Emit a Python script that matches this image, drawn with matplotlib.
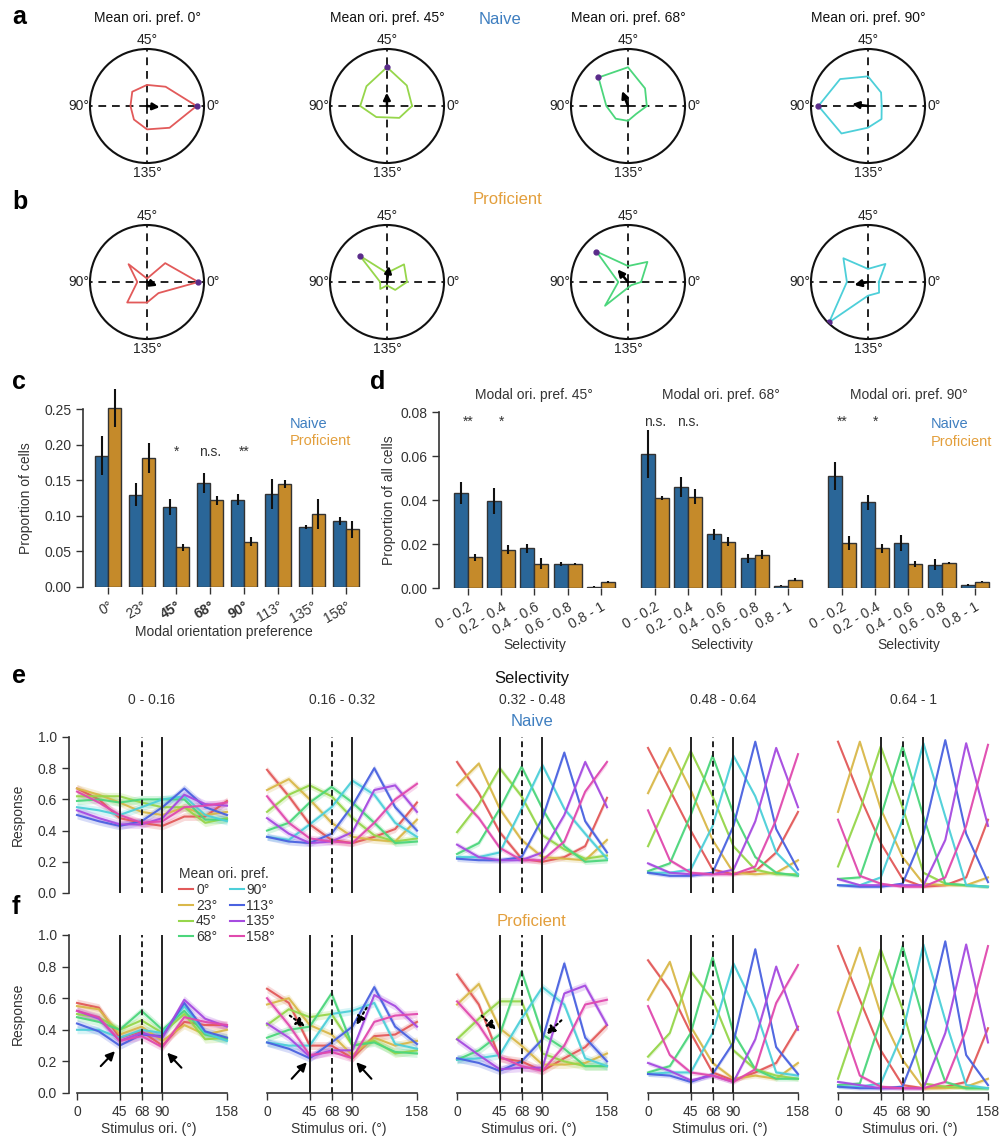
import numpy as np
import matplotlib
matplotlib.use('Agg')
import matplotlib.pyplot as plt
from matplotlib.lines import Line2D

# ---------------- data ----------------
ORI = [0, 23, 45, 68, 90, 113, 135, 158]
ORI_LABELS = ['0°', '23°', '45°', '68°', '90°', '113°', '135°', '158°']

# polar tuning (a: naive, b: proficient), values at ORI
polar_titles = ['Mean ori. pref. 0°', 'Mean ori. pref. 45°', 'Mean ori. pref. 68°', 'Mean ori. pref. 90°']
polar_naive_0 = [0.87, 0.47, 0.37, 0.36, 0.29, 0.33, 0.41, 0.55]
polar_naive_45 = [0.44, 0.50, 0.68, 0.50, 0.47, 0.27, 0.20, 0.30]
polar_naive_68 = [0.33, 0.43, 0.68, 0.72, 0.38, 0.31, 0.26, 0.20]
polar_naive_90 = [0.24, 0.33, 0.52, 0.68, 0.87, 0.67, 0.38, 0.33]
polar_prof_0 = [0.90, 0.46, 0.06, 0.45, 0.17, 0.50, 0.36, 0.28]
polar_prof_45 = [0.35, 0.43, 0.16, 0.66, 0.12, 0.17, 0.06, 0.20]
polar_prof_68 = [0.23, 0.49, 0.28, 0.77, 0.17, 0.58, 0.10, 0.08]
polar_prof_90 = [0.19, 0.44, 0.23, 0.60, 0.37, 0.98, 0.24, 0.27]

# panel c
c_naive = [0.185, 0.130, 0.113, 0.146, 0.123, 0.131, 0.084, 0.093]
c_naive_err = [0.027, 0.016, 0.011, 0.014, 0.008, 0.021, 0.003, 0.006]
c_prof = [0.252, 0.181, 0.056, 0.122, 0.064, 0.145, 0.103, 0.081]
c_prof_err = [0.027, 0.021, 0.005, 0.006, 0.006, 0.006, 0.021, 0.012]
c_sig = ['', '', '*', 'n.s.', '**', '', '', '']

# panel d
sel_bins = ['0 - 0.2', '0.2 - 0.4', '0.4 - 0.6', '0.6 - 0.8', '0.8 - 1']
d_titles = ['Modal ori. pref. 45°', 'Modal ori. pref. 68°', 'Modal ori. pref. 90°']
d_naive_45 = [0.043, 0.0395, 0.018, 0.011, 0.0006]
d_naive_45_err = [0.005, 0.006, 0.002, 0.001, 0.0002]
d_prof_45 = [0.014, 0.0175, 0.011, 0.0108, 0.0027]
d_prof_45_err = [0.0015, 0.002, 0.0025, 0.0004, 0.0005]
d_naive_68 = [0.061, 0.046, 0.0245, 0.0135, 0.001]
d_naive_68_err = [0.011, 0.0045, 0.0025, 0.002, 0.0003]
d_prof_68 = [0.041, 0.0415, 0.021, 0.0152, 0.0038]
d_prof_68_err = [0.001, 0.0035, 0.002, 0.002, 0.0007]
d_naive_90 = [0.051, 0.039, 0.0205, 0.0105, 0.0015]
d_naive_90_err = [0.0065, 0.0035, 0.0035, 0.0025, 0.0005]
d_prof_90 = [0.0205, 0.018, 0.011, 0.0112, 0.0028]
d_prof_90_err = [0.003, 0.002, 0.0015, 0.0005, 0.0002]
d_sig_45 = ['**', '*', '', '', '']
d_sig_68 = ['n.s.', 'n.s.', '', '', '']
d_sig_90 = ['**', '*', '', '', '']

# panels e/f : mean responses, one row per mean ori. pref. (0..158), columns at ORI
sel_titles = ['0 - 0.16', '0.16 - 0.32', '0.32 - 0.48', '0.48 - 0.64', '0.64 - 1']
pref_labels = ORI_LABELS

naive_sel_1 = [
    [0.67, 0.60, 0.48, 0.45, 0.43, 0.49, 0.49, 0.59],
    [0.67, 0.63, 0.58, 0.52, 0.50, 0.55, 0.50, 0.52],
    [0.62, 0.62, 0.62, 0.58, 0.55, 0.55, 0.45, 0.48],
    [0.59, 0.60, 0.58, 0.60, 0.60, 0.60, 0.47, 0.47],
    [0.55, 0.53, 0.50, 0.55, 0.60, 0.62, 0.50, 0.46],
    [0.50, 0.46, 0.43, 0.46, 0.55, 0.67, 0.55, 0.50],
    [0.53, 0.48, 0.44, 0.44, 0.48, 0.63, 0.57, 0.56],
    [0.65, 0.58, 0.50, 0.45, 0.46, 0.55, 0.56, 0.58]]
naive_sel_2 = [
    [0.79, 0.62, 0.44, 0.34, 0.32, 0.36, 0.41, 0.58],
    [0.66, 0.73, 0.60, 0.45, 0.36, 0.34, 0.33, 0.47],
    [0.52, 0.63, 0.69, 0.62, 0.48, 0.37, 0.33, 0.35],
    [0.40, 0.45, 0.58, 0.68, 0.58, 0.45, 0.32, 0.33],
    [0.36, 0.34, 0.44, 0.55, 0.72, 0.63, 0.45, 0.36],
    [0.36, 0.33, 0.32, 0.38, 0.56, 0.80, 0.55, 0.40],
    [0.48, 0.38, 0.32, 0.33, 0.39, 0.66, 0.69, 0.52],
    [0.62, 0.45, 0.35, 0.33, 0.32, 0.45, 0.60, 0.70]]
naive_sel_3 = [
    [0.84, 0.64, 0.39, 0.22, 0.20, 0.23, 0.30, 0.61],
    [0.69, 0.83, 0.54, 0.34, 0.23, 0.22, 0.21, 0.34],
    [0.39, 0.57, 0.80, 0.62, 0.37, 0.28, 0.22, 0.24],
    [0.25, 0.32, 0.54, 0.81, 0.54, 0.30, 0.20, 0.21],
    [0.23, 0.23, 0.26, 0.54, 0.82, 0.54, 0.38, 0.22],
    [0.22, 0.21, 0.21, 0.23, 0.48, 0.90, 0.46, 0.26],
    [0.31, 0.23, 0.21, 0.21, 0.26, 0.50, 0.84, 0.55],
    [0.63, 0.48, 0.29, 0.21, 0.21, 0.33, 0.65, 0.84]]
naive_sel_4 = [
    [0.93, 0.66, 0.40, 0.15, 0.12, 0.14, 0.26, 0.52],
    [0.64, 0.93, 0.66, 0.34, 0.13, 0.12, 0.13, 0.21],
    [0.30, 0.61, 0.91, 0.62, 0.30, 0.15, 0.12, 0.12],
    [0.14, 0.19, 0.50, 0.88, 0.51, 0.23, 0.13, 0.11],
    [0.13, 0.13, 0.15, 0.43, 0.88, 0.62, 0.26, 0.12],
    [0.13, 0.11, 0.11, 0.13, 0.43, 0.97, 0.41, 0.15],
    [0.19, 0.13, 0.12, 0.12, 0.15, 0.46, 0.93, 0.55],
    [0.53, 0.21, 0.13, 0.12, 0.12, 0.17, 0.47, 0.89]]
naive_sel_5 = [
    [0.97, 0.62, 0.32, 0.09, 0.04, 0.05, 0.10, 0.47],
    [0.52, 0.97, 0.54, 0.23, 0.06, 0.05, 0.05, 0.10],
    [0.17, 0.53, 0.94, 0.55, 0.13, 0.06, 0.05, 0.04],
    [0.09, 0.10, 0.49, 0.94, 0.49, 0.06, 0.05, 0.04],
    [0.05, 0.05, 0.10, 0.47, 0.96, 0.49, 0.05, 0.04],
    [0.05, 0.04, 0.04, 0.06, 0.38, 0.98, 0.38, 0.07],
    [0.09, 0.05, 0.05, 0.05, 0.05, 0.34, 0.96, 0.43],
    [0.47, 0.11, 0.06, 0.04, 0.04, 0.10, 0.43, 0.95]]

prof_sel_1 = [
    [0.57, 0.54, 0.35, 0.39, 0.30, 0.45, 0.43, 0.43],
    [0.55, 0.53, 0.37, 0.42, 0.33, 0.43, 0.37, 0.40],
    [0.50, 0.48, 0.40, 0.46, 0.38, 0.50, 0.34, 0.35],
    [0.48, 0.45, 0.40, 0.52, 0.40, 0.52, 0.37, 0.34],
    [0.40, 0.40, 0.35, 0.40, 0.38, 0.55, 0.38, 0.33],
    [0.44, 0.39, 0.30, 0.37, 0.36, 0.57, 0.39, 0.35],
    [0.52, 0.47, 0.33, 0.38, 0.35, 0.59, 0.47, 0.42],
    [0.52, 0.48, 0.33, 0.36, 0.29, 0.48, 0.45, 0.43]]
prof_sel_2 = [
    [0.66, 0.57, 0.30, 0.30, 0.22, 0.36, 0.37, 0.45],
    [0.56, 0.60, 0.43, 0.37, 0.24, 0.35, 0.30, 0.33],
    [0.43, 0.53, 0.48, 0.50, 0.30, 0.33, 0.25, 0.27],
    [0.35, 0.40, 0.42, 0.63, 0.30, 0.32, 0.26, 0.25],
    [0.32, 0.30, 0.30, 0.50, 0.52, 0.57, 0.31, 0.28],
    [0.32, 0.28, 0.22, 0.32, 0.42, 0.67, 0.42, 0.31],
    [0.44, 0.35, 0.23, 0.27, 0.27, 0.62, 0.55, 0.42],
    [0.60, 0.43, 0.24, 0.26, 0.22, 0.45, 0.49, 0.50]]
prof_sel_3 = [
    [0.75, 0.56, 0.22, 0.20, 0.14, 0.22, 0.29, 0.43],
    [0.56, 0.69, 0.41, 0.30, 0.18, 0.18, 0.19, 0.25],
    [0.34, 0.47, 0.58, 0.58, 0.25, 0.20, 0.17, 0.17],
    [0.21, 0.27, 0.37, 0.77, 0.37, 0.28, 0.17, 0.17],
    [0.21, 0.22, 0.24, 0.47, 0.67, 0.56, 0.22, 0.17],
    [0.22, 0.19, 0.14, 0.20, 0.34, 0.82, 0.35, 0.20],
    [0.34, 0.24, 0.15, 0.16, 0.16, 0.63, 0.68, 0.43],
    [0.58, 0.43, 0.23, 0.17, 0.14, 0.30, 0.56, 0.59]]
prof_sel_4 = [
    [0.84, 0.65, 0.38, 0.13, 0.08, 0.13, 0.19, 0.42],
    [0.59, 0.83, 0.42, 0.19, 0.09, 0.11, 0.09, 0.19],
    [0.23, 0.38, 0.77, 0.59, 0.27, 0.15, 0.11, 0.09],
    [0.13, 0.17, 0.38, 0.86, 0.38, 0.15, 0.09, 0.09],
    [0.12, 0.13, 0.13, 0.38, 0.82, 0.53, 0.13, 0.11],
    [0.12, 0.11, 0.07, 0.12, 0.32, 0.91, 0.29, 0.12],
    [0.19, 0.14, 0.08, 0.11, 0.07, 0.34, 0.80, 0.40],
    [0.55, 0.24, 0.13, 0.11, 0.07, 0.15, 0.57, 0.81]]
prof_sel_5 = [
    [0.93, 0.59, 0.27, 0.05, 0.03, 0.04, 0.07, 0.41],
    [0.52, 0.92, 0.50, 0.21, 0.03, 0.03, 0.04, 0.09],
    [0.09, 0.50, 0.91, 0.53, 0.06, 0.04, 0.03, 0.03],
    [0.05, 0.06, 0.46, 0.93, 0.46, 0.07, 0.03, 0.03],
    [0.04, 0.04, 0.06, 0.38, 0.94, 0.46, 0.05, 0.03],
    [0.04, 0.03, 0.03, 0.04, 0.38, 0.96, 0.24, 0.05],
    [0.07, 0.05, 0.03, 0.03, 0.03, 0.38, 0.94, 0.32],
    [0.51, 0.11, 0.04, 0.03, 0.03, 0.07, 0.40, 0.93]]

naive_sem = [0.025, 0.022, 0.018, 0.012, 0.010]
prof_sem = [0.025, 0.025, 0.025, 0.015, 0.012]

# arrows in f (x0, y0, x1, y1, dotted)
f_arrows_1 = [(25, 0.17, 40, 0.265, False), (110, 0.16, 95, 0.255, False)]
f_arrows_2 = [(26, 0.09, 42, 0.195, False), (110, 0.09, 94, 0.195, False),
              (24, 0.49, 40, 0.42, True), (105, 0.54, 94, 0.43, True)]
f_arrows_3 = [(26, 0.49, 41, 0.40, True), (110, 0.46, 94, 0.37, True)]

# ---------------- style ----------------
plt.rcParams['font.family'] = ['Liberation Sans', 'DejaVu Sans']
plt.rcParams['font.size'] = 10
DARK = '#333333'
plt.rcParams['axes.edgecolor'] = DARK
plt.rcParams['xtick.color'] = DARK
plt.rcParams['ytick.color'] = DARK
plt.rcParams['axes.labelcolor'] = DARK
plt.rcParams['text.color'] = '#222222'
plt.rcParams['axes.linewidth'] = 1.2

BLUE = '#2a6698'
ORANGE = '#c58a2a'
BLUE_T = '#3f7fc0'
ORANGE_T = '#e39f3c'
LINE_COLORS = ['#e25a5a', '#d9b84a', '#96d64b', '#4cd67c', '#4dcfd9', '#4a62e0', '#a64be0', '#e04aae']
POLAR_COLORS = [LINE_COLORS[0], LINE_COLORS[2], LINE_COLORS[3], LINE_COLORS[4]]

W, H = 1000, 1144
fig = plt.figure(figsize=(W / 100, H / 100), dpi=100)


def px_axes(left, top, width, height, **kw):
    return fig.add_axes([left / W, 1 - (top + height) / H, width / W, height / H], **kw)


def ftext(x, y, s, **kw):
    return fig.text(x / W, 1 - y / H, s, **kw)


# ---------------- a / b polar ----------------
polar_rows = [(106, [polar_naive_0, polar_naive_45, polar_naive_68, polar_naive_90]),
              (282, [polar_prof_0, polar_prof_45, polar_prof_68, polar_prof_90])]
polar_cx = [147, 387, 628, 868]
R = 57
theta = np.deg2rad(2 * np.array(ORI))
for row, (cy, rows) in enumerate(polar_rows):
    for k, vals in enumerate(rows):
        vals = np.array(vals)
        ax = px_axes(polar_cx[k] - R, cy - R, 2 * R, 2 * R, projection='polar')
        ax.set_ylim(0, 1)
        ax.grid(False)
        ax.set_xticks([])
        ax.set_yticks([])
        ax.spines['polar'].set_linewidth(1.5)
        ax.spines['polar'].set_color('#111111')
        for t in [0, np.pi / 2, np.pi, 3 * np.pi / 2]:
            ax.plot([t, t], [0, 1], color='#222222', lw=1.4, ls=(0, (4, 3)))
        ax.plot(np.append(theta, theta[0]), np.append(vals, vals[0]),
                color=POLAR_COLORS[k], lw=1.3)
        im = int(np.argmax(vals))
        ax.plot(theta[im], vals[im], 'o', color='#5a2b8a', ms=3.5, zorder=5)
        vec = np.sum(vals * np.exp(1j * theta)) / np.sum(vals)
        ax.annotate('', xy=(np.angle(vec), abs(vec)), xytext=(0, 0),
                    arrowprops=dict(arrowstyle='-|>', color='k', lw=1.8,
                                    mutation_scale=10, shrinkA=0, shrinkB=0), zorder=6)
        ax.text(np.pi / 2, 1.03, '45°', ha='center', va='bottom', fontsize=10)
        ax.text(3 * np.pi / 2, 1.05, '135°', ha='center', va='top', fontsize=10)
        ax.text(0, 1.04, '0°', ha='left', va='center', fontsize=10)
        ax.text(np.pi, 1.01, '90°', ha='right', va='center', fontsize=10)
        if row == 0:
            ftext(polar_cx[k], 18, polar_titles[k], ha='center', va='center', fontsize=10, color='#111111')

ftext(500, 19, 'Naive', ha='center', va='center', fontsize=12, color=BLUE_T)
ftext(507, 200, 'Proficient', ha='center', va='center', fontsize=12, color=ORANGE_T)

# panel letters
for lab, (x, y) in {'a': (12, 17), 'b': (12, 202), 'c': (12, 382), 'd': (370, 382),
                    'e': (12, 676), 'f': (12, 907)}.items():
    ftext(x, y, lab, ha='left', va='center', fontsize=18, fontweight='bold', color='k')


def style_bar_axes(ax):
    for s in ['top', 'right', 'bottom']:
        ax.spines[s].set_visible(False)
    ax.tick_params(axis='both', length=5, width=1, labelsize=10, colors=DARK)


# ---------------- c ----------------
ax = px_axes(83, 388, 280, 199)
x = np.arange(len(ORI_LABELS))
bw = 0.38
ekw = dict(ecolor='#111111', elinewidth=1.5, capsize=0)
ax.bar(x - bw / 2, c_naive, bw, yerr=c_naive_err, color=BLUE, edgecolor=DARK, lw=1, error_kw=ekw)
ax.bar(x + bw / 2, c_prof, bw, yerr=c_prof_err, color=ORANGE, edgecolor=DARK, lw=1, error_kw=ekw)
ax.set_xlim(-0.74, 7.5)
ax.set_ylim(0, 0.28)
style_bar_axes(ax)
ax.spines['left'].set_bounds(0, 0.25)
ax.set_yticks([0, 0.05, 0.10, 0.15, 0.20, 0.25])
ax.set_yticklabels(['0.00', '0.05', '0.10', '0.15', '0.20', '0.25'])
ax.set_xticks(x)
ax.set_xticklabels(ORI_LABELS, rotation=30, ha='right', rotation_mode='anchor')
for i in [2, 3, 4]:
    ax.get_xticklabels()[i].set_fontweight('bold')
for i, s in enumerate(c_sig):
    if s:
        ax.text(i, 0.19, s, ha='center', va='center', fontsize=10, color=DARK)
ax.text(5.35, 0.23, 'Naive', ha='left', va='center', fontsize=10.5, color=BLUE_T)
ax.text(5.35, 0.205, 'Proficient', ha='left', va='center', fontsize=10.5, color=ORANGE_T)
ax.set_ylabel('Proportion of cells', fontsize=10)
ax.yaxis.set_label_coords(-0.18, 0.447)
ftext(224, 632, 'Modal orientation preference', ha='center', va='center', fontsize=10, color=DARK)

# ---------------- d ----------------
d_sets = [(d_naive_45, d_naive_45_err, d_prof_45, d_prof_45_err, d_sig_45),
          (d_naive_68, d_naive_68_err, d_prof_68, d_prof_68_err, d_sig_68),
          (d_naive_90, d_naive_90_err, d_prof_90, d_prof_90_err, d_sig_90)]
d_tick0 = [468, 655, 842]
d_step = 33.2
xs = np.arange(len(sel_bins))
bwd = 0.42
for k, (nv, ne, pv, pe, sg) in enumerate(d_sets):
    left = d_tick0[k] - 0.87 * d_step
    ax = px_axes(left, 412, 5.37 * d_step, 176)
    ax.bar(xs - bwd / 2, nv, bwd, yerr=ne, color=BLUE, edgecolor=DARK, lw=1, error_kw=ekw)
    ax.bar(xs + bwd / 2, pv, bwd, yerr=pe, color=ORANGE, edgecolor=DARK, lw=1, error_kw=ekw)
    ax.set_xlim(-0.87, 4.5)
    ax.set_ylim(0, 0.08)
    style_bar_axes(ax)
    ax.set_xticks(xs)
    ax.set_xticklabels(sel_bins, rotation=30, ha='right', rotation_mode='anchor')
    if k == 0:
        ax.set_yticks([0, 0.02, 0.04, 0.06, 0.08])
        ax.set_yticklabels(['0.00', '0.02', '0.04', '0.06', '0.08'])
        ax.set_ylabel('Proportion of all cells', fontsize=10)
        ax.yaxis.set_label_coords(-0.24, 0.5)
    else:
        ax.spines['left'].set_visible(False)
        ax.set_yticks([])
    for i, s in enumerate(sg):
        if s:
            ax.text(i, 0.0755, s, ha='center', va='center', fontsize=10, color=DARK)
    ax.text(2, 1.097, d_titles[k], ha='center', va='center', fontsize=10, color=DARK,
            transform=ax.get_xaxis_transform())
    ftext(d_tick0[k] + 2 * d_step, 645, 'Selectivity', ha='center', va='center', fontsize=10, color=DARK)
    if k == 2:
        ax.text(2.68, 0.0745, 'Naive', ha='left', va='center', fontsize=10.5, color=BLUE_T)
        ax.text(2.68, 0.0663, 'Proficient', ha='left', va='center', fontsize=10.5, color=ORANGE_T)

# ---------------- e / f ----------------
col_x0 = [77, 267, 457, 648, 838]
px_per = 150 / 158.0
line_rows = [(737, 156, [naive_sel_1, naive_sel_2, naive_sel_3, naive_sel_4, naive_sel_5], naive_sem, False),
             (935, 158, [prof_sel_1, prof_sel_2, prof_sel_3, prof_sel_4, prof_sel_5], prof_sem, True)]
arrows_by_col = {0: f_arrows_1, 1: f_arrows_2, 2: f_arrows_3}
for r, (top, h, panels, sems, bottom) in enumerate(line_rows):
    for k in range(5):
        ax = px_axes(col_x0[k] - 8.5 * px_per, top, 168.5 * px_per, h)
        ax.set_xlim(-8.5, 160)
        ax.set_ylim(0, 1.0)
        for i in range(8):
            yv = np.array(panels[k][i])
            ax.fill_between(ORI, yv - sems[k], yv + sems[k], color=LINE_COLORS[i], alpha=0.22, lw=0)
            ax.plot(ORI, yv, color=LINE_COLORS[i], lw=1.5, alpha=0.95)
        for xv, ls in [(45, '-'), (68, (0, (3, 2))), (90, '-')]:
            ax.axvline(xv, color='#222222', lw=1.4, ls=ls, zorder=4)
        for s in ['top', 'right']:
            ax.spines[s].set_visible(False)
        ax.tick_params(axis='both', length=5, width=1, labelsize=10, colors=DARK)
        if k == 0:
            ax.set_yticks([0, 0.2, 0.4, 0.6, 0.8, 1.0])
            ax.set_yticklabels(['0.0', '0.2', '0.4', '0.6', '0.8', '1.0'])
            ax.set_ylabel('Response', fontsize=10)
            ax.yaxis.set_label_coords(-0.275, 0.5)
        else:
            ax.spines['left'].set_visible(False)
            ax.set_yticks([])
        if bottom:
            ax.spines['bottom'].set_bounds(0, 158)
            ax.set_xticks([0, 45, 68, 90, 158])
            ax.set_xticklabels(['0', '45', '68', '90', '158'])
            ax.set_xlabel('Stimulus ori. (°)', fontsize=10, labelpad=2)
            for (x0, y0, x1, y1, dotted) in arrows_by_col.get(k, []):
                ax.annotate('', xy=(x1, y1), xytext=(x0, y0),
                            arrowprops=dict(arrowstyle='-|>', color='k', lw=1.5,
                                            ls=(0, (1, 1.5)) if dotted else '-',
                                            mutation_scale=13, shrinkA=0, shrinkB=0), zorder=6)
        else:
            ax.spines['bottom'].set_visible(False)
            ax.set_xticks([])
            ftext(col_x0[k] + 75, 700, sel_titles[k], ha='center', va='center', fontsize=10, color=DARK)

ftext(532, 678, 'Selectivity', ha='center', va='center', fontsize=12, color='#111111')
ftext(532, 721, 'Naive', ha='center', va='center', fontsize=12, color=BLUE_T)
ftext(532, 921, 'Proficient', ha='center', va='center', fontsize=12, color=ORANGE_T)

handles = [Line2D([0], [0], color=c, lw=1.5) for c in LINE_COLORS]
leg = fig.legend(handles, pref_labels, loc='upper left', bbox_to_anchor=(178 / W, 1 - 866 / H),
                 ncol=2, title='Mean ori. pref.', frameon=False, fontsize=10, title_fontsize=10,
                 handlelength=1.0, handletextpad=0.2, columnspacing=0.9, labelspacing=0.12,
                 borderpad=0.1, borderaxespad=0)
leg._legend_box.align = 'left'
for t in leg.get_texts():
    t.set_color(DARK)
leg.get_title().set_color(DARK)

fig.savefig('out.png', dpi=100)
